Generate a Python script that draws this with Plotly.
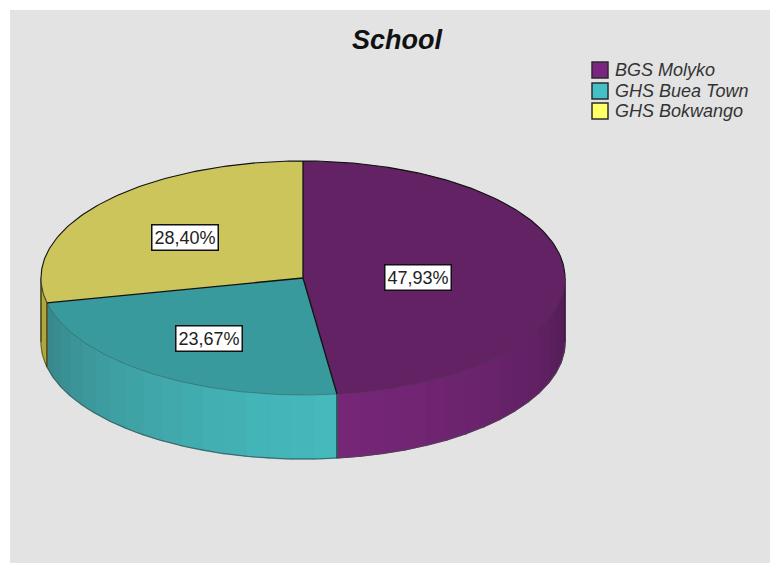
import math
import plotly.graph_objects as go

categories = ["BGS Molyko", "GHS Buea Town", "GHS Bokwango"]
percentages = [47.93, 23.67, 28.40]
percent_labels = ["47,93%", "23,67%", "28,40%"]
legend_colors = ["#7b2580", "#42c0c6", "#ffff66"]
top_colors = ["#622263", "#399a9e", "#cbc55c"]
wall_light = ["#752677", "#45b9bc", "#b8b040"]
wall_dark = ["#4f1c52", "#37878a", "#b0a83c"]
label_radius = [0.44, 0.62, 0.58]
label_dy = [3, 1, 2]

CX, CY, RX, RY, DEPTH = 303, 278, 262, 117, 64
W, H = 770, 563


def pt(deg, drop=0):
    a = math.radians(deg)
    return CX + RX * math.sin(a), H - (CY - RY * math.cos(a) + drop)


def arc(a0, a1, drop=0, step=1.0):
    n = max(2, int(abs(a1 - a0) / step) + 1)
    return [pt(a0 + (a1 - a0) * i / (n - 1), drop) for i in range(n)]


def mix(c1, c2, t):
    p = [int(c1[i:i + 2], 16) for i in (1, 3, 5)]
    q = [int(c2[i:i + 2], 16) for i in (1, 3, 5)]
    return "rgb(%d,%d,%d)" % tuple(round(u + (v - u) * t) for u, v in zip(p, q))


def poly(points, fill, line="rgba(0,0,0,0)", width=0):
    xs = [p[0] for p in points] + [points[0][0]]
    ys = [p[1] for p in points] + [points[0][1]]
    return go.Scatter(x=xs, y=ys, mode="lines", fill="toself", fillcolor=fill,
                      line=dict(color=line, width=width), showlegend=False, hoverinfo="skip")


def stroke(points, color, width):
    return go.Scatter(x=[p[0] for p in points], y=[p[1] for p in points], mode="lines",
                      line=dict(color=color, width=width), showlegend=False, hoverinfo="skip")


fig = go.Figure()

edges = [0]
for v in percentages:
    edges.append(edges[-1] + v * 3.6)

# side wall, only the front half of the rim (90 to 270 degrees clockwise from top)
for i in range(3):
    a0, a1 = max(edges[i], 90), min(edges[i + 1], 270)
    if a1 <= a0:
        continue
    bands = max(1, int((a1 - a0) / 5))
    for b in range(bands):
        s0 = a0 + (a1 - a0) * b / bands
        s1 = a0 + (a1 - a0) * (b + 1) / bands
        mid = (s0 + s1) / 2
        # lightest band sits next to the purple/teal junction
        t = min(1, abs(mid - edges[1]) / max(abs(edges[1] - 90), abs(edges[2] - edges[1]))) ** 1.4
        col = mix(wall_light[i], wall_dark[i], t)
        fig.add_trace(poly(arc(s0, s1) + arc(s1, s0, DEPTH), col, col, 1.5))

# outer wall outline and vertical edges
fig.add_trace(stroke(arc(90, 270, DEPTH), "#4a4a4a", 0.8))
for deg in (90, edges[1], edges[2], 270):
    col = "#111111" if deg != 90 else "#3d1640"
    fig.add_trace(stroke([pt(deg), pt(deg, DEPTH)], col, 1))

# top surface
for i in range(3):
    fig.add_trace(poly([(CX, H - CY)] + arc(edges[i], edges[i + 1]), top_colors[i]))

# outlines of the top: back rim dark, front rim faint, radial lines black
fig.add_trace(stroke(arc(270, 450), "#111111", 1.1))
fig.add_trace(stroke(arc(edges[2], 270), "#333333", 1))
fig.add_trace(stroke(arc(90, edges[2]), "#3f3f3f", 0.4))
for deg in edges[:3]:
    fig.add_trace(stroke([(CX, H - CY), pt(deg)], "#111111", 1.3))

annotations = []
for i, txt in enumerate(percent_labels):
    mid = (edges[i] + edges[i + 1]) / 2
    x, y = pt(mid)
    lx = CX + (x - CX) * label_radius[i]
    ly = (H - CY) + (y - (H - CY)) * label_radius[i]
    annotations.append(dict(x=lx, y=ly - label_dy[i], text=txt, showarrow=False,
                            font=dict(family="Liberation Sans", size=18, color="#222222"),
                            bgcolor="white", bordercolor="#111111", borderwidth=1.5, borderpad=2))

# legend keys and texts, placed in pixel-sized steps to keep the tight spacing
LEG_Y = [70, 91, 111]
shapes = []
for name, col, ly in zip(categories, legend_colors, LEG_Y):
    shapes.append(dict(type="rect", xref="x", yref="y", x0=592, x1=608, y0=H - ly - 8, y1=H - ly + 8,
                       fillcolor=col, line=dict(color="#2b2b2b", width=1.5), layer="above"))
    annotations.append(dict(x=613, y=H - ly, xref="x", yref="y", xanchor="left", text=name, showarrow=False,
                            font=dict(family="Liberation Sans", size=18, color="#333333", style="italic")))

fig.update_layout(
    width=W, height=H,
    margin=dict(l=10, r=0, t=10, b=0),
    paper_bgcolor="white", plot_bgcolor="#e3e3e3",
    showlegend=False,
    title=dict(text="School", x=397 / W, xanchor="center", y=1 - 40 / H, yanchor="middle",
               font=dict(family="Liberation Sans", size=27, color="#111111", style="italic", weight=700)),
    xaxis=dict(range=[10, W], visible=False, fixedrange=True),
    yaxis=dict(range=[0, H - 10], visible=False, fixedrange=True),
    annotations=annotations,
    shapes=shapes,
)
fig.write_html("out.html", config=dict(displayModeBar=False),
               post_script="document.body.style.margin='0';document.documentElement.style.overflow='hidden';")
